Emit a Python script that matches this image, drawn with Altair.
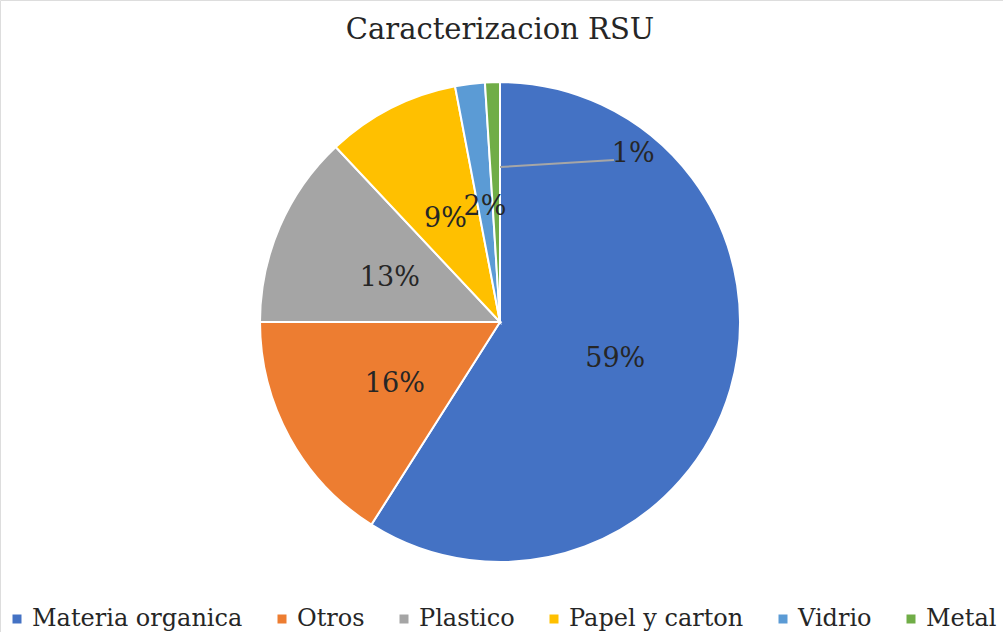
import math
import altair as alt
import pandas as pd

# Composition of municipal solid waste (RSU), percent by category
categories = ["Materia organica", "Otros", "Plastico", "Papel y carton", "Vidrio", "Metal"]
percents = [59, 16, 13, 9, 2, 1]
colors = ["#4472C4", "#ED7D31", "#A5A5A5", "#FFC000", "#5B9BD5", "#70AD47"]
title_text = "Caracterizacion RSU"

FONT = "DejaVu Serif"
TEXT_COLOR = "#262626"
CX, CY, R = 500, 322, 240

df = pd.DataFrame({"cat": categories, "pct": percents, "idx": range(len(categories))})
df["lbl"] = df["pct"].astype(str) + "%"
small = df["pct"] == min(percents)
df["lbl_in"] = df["lbl"].where(~small, "")
df["lbl_out"] = df["lbl"].where(small, "")

base = alt.Chart(df).encode(
    theta=alt.Theta("pct:Q", stack=True),
    order=alt.Order("idx:Q"),
    x=alt.value(CX),
    y=alt.value(CY),
)

pie = base.mark_arc(outerRadius=R, stroke="white", strokeWidth=2).encode(
    color=alt.Color(
        "cat:N",
        scale=alt.Scale(domain=categories, range=colors),
        sort=categories,
        legend=alt.Legend(
            title=None,
            orient="none",
            direction="horizontal",
            columns=len(categories),
            legendX=5,
            legendY=607,
            symbolType="square",
            symbolSize=81,
            symbolStrokeWidth=0,
            labelFont=FONT,
            labelFontSize=24,
            labelColor=TEXT_COLOR,
            labelOffset=3,
            labelLimit=0,
            columnPadding=27,
        ),
    )
)

inner_labels = base.mark_text(
    radius=R / 2, font=FONT, fontSize=27, color=TEXT_COLOR, baseline="middle", dy=4
).encode(text="lbl_in:N")

# The smallest slice gets its label outside, joined by a leader line
lead_r = 155
lx0 = CX + lead_r * math.sin(2 * math.pi)
ly0 = CY - lead_r * math.cos(2 * math.pi)
label_dx, label_dy = 138, -13

outer_label = base.mark_text(
    radius=lead_r, font=FONT, fontSize=27, color=TEXT_COLOR, baseline="middle",
    dx=label_dx, dy=label_dy,
).encode(text="lbl_out:N")

leader = alt.Chart(pd.DataFrame({"k": [0]})).mark_rule(
    color="#A6A6A6", strokeWidth=2
).encode(
    x=alt.value(lx0),
    x2=alt.value(lx0 + label_dx - 24),
    y=alt.value(ly0),
    y2=alt.value(ly0 + label_dy + 6),
)

title = alt.Chart(pd.DataFrame({"t": [title_text]})).mark_text(
    font=FONT, fontSize=29, color=TEXT_COLOR, baseline="alphabetic", align="center"
).encode(text="t:N", x=alt.value(500), y=alt.value(39))

chart = (
    alt.layer(pie, leader, inner_labels, outer_label, title)
    .properties(
        width=1003,
        height=632,
        padding=0,
        autosize=alt.AutoSizeParams(type="none"),
    )
    .configure_view(stroke=None)
    .configure(background="white")
)

chart.save("out.html", embed_options={"renderer": "svg", "actions": False})
